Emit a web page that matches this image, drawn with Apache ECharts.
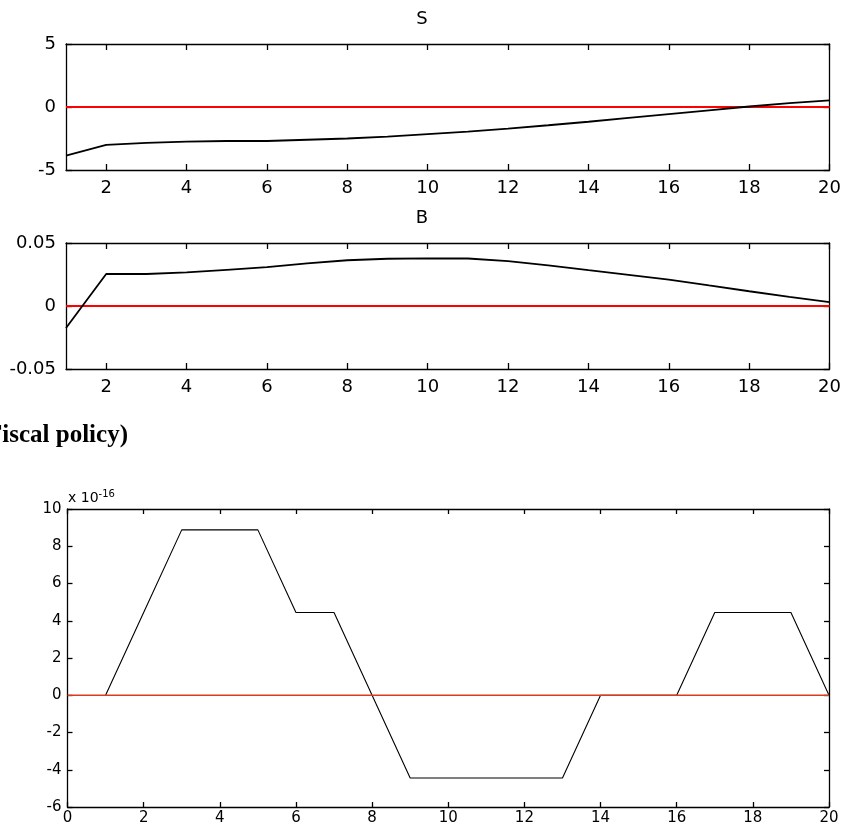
<!DOCTYPE html>
<html>
<head>
<meta charset="utf-8">
<script src="https://cdn.jsdelivr.net/npm/echarts@6/dist/echarts.min.js"></script>
<style>
html,body{margin:0;padding:0;background:#fff;}
#c{width:844px;height:829px;}
</style>
</head>
<body>
<div id="c"></div>
<script>
// ---- data ----
const X_PERIODS = [1,2,3,4,5,6,7,8,9,10,11,12,13,14,15,16,17,18,19,20];
const S_VALUES = [-3.85,-3.0,-2.85,-2.75,-2.7,-2.7,-2.6,-2.5,-2.35,-2.15,-1.95,-1.72,-1.45,-1.17,-0.86,-0.56,-0.26,0.04,0.3,0.52];
const B_VALUES = [-0.0175,0.0254,0.0254,0.0267,0.0287,0.0308,0.0338,0.0363,0.0375,0.0378,0.0377,0.0356,0.0322,0.0284,0.0247,0.021,0.0163,0.0117,0.0072,0.003];
// bottom panel values in units of 1e-16
const FISCAL_VALUES = [0,4.44,8.88,8.88,8.88,4.44,4.44,0,-4.44,-4.44,-4.44,-4.44,-4.44,0,0,0,4.44,4.44,4.44,0];
const TOP_X_TICKS = [2,4,6,8,10,12,14,16,18,20];
const S_Y_TICKS = [-5,0,5];
const B_Y_TICKS = [-0.05,0,0.05];
const BOTTOM_X_TICKS = [0,2,4,6,8,10,12,14,16,18,20];
const BOTTOM_Y_TICKS = [-6,-4,-2,0,2,4,6,8,10];
const TITLES = ['S','B'];
const SIDE_TEXT = 'Fiscal policy)';
const EXP_TEXT = ['x 10','-16'];

const FONT = '"DejaVu Sans", "Liberation Sans", Arial, sans-serif';
const pair = (xs, ys) => xs.map((x,i)=>[x, ys[i]]);

const grids = [
  {left:66, right:14, top:44, height:126},
  {left:66, right:14, top:243, height:126},
  {left:67.5, right:15, top:509, height:298}
];

function xAxes(gi, min, max, ticks, fs, margin, tl){
  return [
    {type:'value', gridIndex:gi, position:'bottom', min:min, max:max,
     axisLine:{show:true, onZero:false, lineStyle:{color:'#000', width:1.3}},
     axisTick:{show:true, inside:true, length:tl, customValues:ticks, lineStyle:{color:'#000', width:1.3}},
     axisLabel:{show:true, customValues:ticks, color:'#000', fontFamily:FONT, fontSize:fs, margin:margin, showMinLabel:true, showMaxLabel:true},
     splitLine:{show:false}},
    {type:'value', gridIndex:gi, position:'top', min:min, max:max,
     axisLine:{show:true, onZero:false, lineStyle:{color:'#000', width:1.3}},
     axisTick:{show:true, inside:true, length:tl, customValues:ticks, lineStyle:{color:'#000', width:1.3}},
     axisLabel:{show:false}, splitLine:{show:false}}
  ];
}
function yAxes(gi, min, max, ticks, fs, margin, tl){
  return [
    {type:'value', gridIndex:gi, position:'left', min:min, max:max,
     axisLine:{show:true, onZero:false, lineStyle:{color:'#000', width:1.3}},
     axisTick:{show:true, inside:true, length:tl, customValues:ticks, lineStyle:{color:'#000', width:1.3}},
     axisLabel:{show:true, customValues:ticks, color:'#000', fontFamily:FONT, fontSize:fs, margin:margin, showMinLabel:true, showMaxLabel:true},
     splitLine:{show:false}},
    {type:'value', gridIndex:gi, position:'right', min:min, max:max,
     axisLine:{show:true, onZero:false, lineStyle:{color:'#000', width:1.3}},
     axisTick:{show:true, inside:true, length:tl, customValues:ticks, lineStyle:{color:'#000', width:1.3}},
     axisLabel:{show:false}, splitLine:{show:false}}
  ];
}

const xAxis = [].concat(
  xAxes(0, 1, 20, TOP_X_TICKS, 18, 9, 6),
  xAxes(1, 1, 20, TOP_X_TICKS, 18, 9, 6),
  xAxes(2, 0, 20, BOTTOM_X_TICKS, 15, 4, 5)
);
const yAxis = [].concat(
  yAxes(0, -5, 5, S_Y_TICKS, 18, 10, 6),
  yAxes(1, -0.05, 0.05, B_Y_TICKS, 18, 10, 6),
  yAxes(2, -6, 10, BOTTOM_Y_TICKS, 15, 6, 5)
);

function zeroLine(xi, yi, xmin, xmax, color, w, z){
  return {type:'line', xAxisIndex:xi, yAxisIndex:yi, data:[[xmin,0],[xmax,0]],
    showSymbol:false, symbol:'none', silent:true, z:z,
    lineStyle:{color:color, width:w}};
}
function dataLine(xi, yi, ys, w, z){
  return {type:'line', xAxisIndex:xi, yAxisIndex:yi, data:pair(X_PERIODS, ys),
    showSymbol:false, symbol:'none', silent:true, z:z,
    lineStyle:{color:'#000', width:w}};
}

const series = [
  zeroLine(0, 0, 1, 20, '#ff0000', 2, 2),
  dataLine(0, 0, S_VALUES, 1.8, 3),
  zeroLine(2, 2, 1, 20, '#ff0000', 2, 2),
  dataLine(2, 2, B_VALUES, 1.8, 3),
  dataLine(4, 4, FISCAL_VALUES, 1.1, 2),
  zeroLine(4, 4, 0, 20, '#dd3a1c', 1.3, 3)
];

const option = {
  animation:false,
  backgroundColor:'#fff',
  grid:grids,
  xAxis:xAxis,
  yAxis:yAxis,
  series:series,
  graphic:[
    {type:'text', left:'center', top:10, style:{text:TITLES[0], font:'18px '+FONT, fill:'#000'}},
    {type:'text', left:'center', top:209, style:{text:TITLES[1], font:'18px '+FONT, fill:'#000'}},
    {type:'text', x:-13, y:423, style:{text:SIDE_TEXT, font:'bold 25px "Liberation Serif", "Times New Roman", serif', fill:'#000'}},
    {type:'text', x:68, y:489, style:{
      text:'{a|'+EXP_TEXT[0]+'}{b|'+EXP_TEXT[1]+'}',
      rich:{a:{fontSize:14, fontFamily:FONT, fill:'#000', color:'#000'},
            b:{fontSize:10, fontFamily:FONT, fill:'#000', color:'#000', verticalAlign:'top', padding:[0,0,9,0]}}
    }}
  ]
};

const chart = echarts.init(document.getElementById('c'), null, {renderer:'canvas'});
chart.setOption(option);
</script>
</body>
</html>
